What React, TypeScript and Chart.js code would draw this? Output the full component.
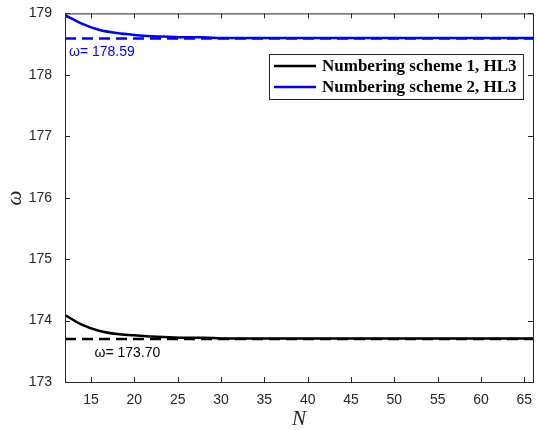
import React, { useEffect, useRef } from "react";
import { Chart, registerables } from "chart.js";

Chart.register(...registerables);

// Sample sizes N and the converged frequency for each numbering scheme
const nValues = [12, 14, 16, 18, 20, 22, 24, 26, 28, 30, 32, 34, 36, 38, 40, 42, 44, 46, 48, 50, 52, 54, 56, 58, 60, 62, 64, 66];
const scheme1 = [174.09, 173.93, 173.83, 173.78, 173.76, 173.74, 173.73, 173.72, 173.72, 173.71, 173.71, 173.71, 173.71, 173.71, 173.71, 173.71, 173.71, 173.71, 173.71, 173.71, 173.71, 173.71, 173.71, 173.71, 173.71, 173.71, 173.71, 173.71];
const scheme2 = [178.97, 178.83, 178.73, 178.68, 178.65, 178.63, 178.62, 178.61, 178.61, 178.60, 178.60, 178.60, 178.60, 178.60, 178.60, 178.60, 178.60, 178.60, 178.60, 178.60, 178.60, 178.60, 178.60, 178.60, 178.60, 178.60, 178.60, 178.60];
const reference1 = 173.7;
const reference2 = 178.59;
const seriesNames = ["Numbering scheme 1, HL3", "Numbering scheme 2, HL3"];
const seriesColors = ["#000000", "#0000ff"];
const xTicks = [15, 20, 25, 30, 35, 40, 45, 50, 55, 60, 65];
const yTicks = [173, 174, 175, 176, 177, 178, 179];

const AXIS_COLOR = "#262626";
const SANS = "'Liberation Sans', Arial, sans-serif";
const SERIF = "'Liberation Serif', 'Times New Roman', serif";

const frame = {
  id: "frame",
  afterDatasetsDraw(chart: any) {
    const { ctx, chartArea: a, scales } = chart;
    const xs = scales.x;
    const ys = scales.y;
    ctx.save();

    // reference value labels
    ctx.font = "14px " + SANS;
    ctx.textBaseline = "middle";
    ctx.textAlign = "left";
    ctx.fillStyle = seriesColors[1];
    ctx.fillText("\u03c9= " + reference2.toFixed(2), xs.getPixelForValue(12) + 4, ys.getPixelForValue(reference2) + 14);
    ctx.fillStyle = seriesColors[0];
    ctx.fillText("\u03c9= " + reference1.toFixed(2), xs.getPixelForValue(15.4), ys.getPixelForValue(reference1) + 14);

    // box and inward ticks on all four sides
    ctx.strokeStyle = AXIS_COLOR;
    ctx.lineWidth = 1;
    ctx.strokeRect(a.left + 0.5, a.top + 0.5, a.right - a.left, a.bottom - a.top);
    ctx.beginPath();
    const tl = 5;
    xTicks.forEach((v) => {
      const px = Math.round(xs.getPixelForValue(v)) + 0.5;
      ctx.moveTo(px, a.bottom);
      ctx.lineTo(px, a.bottom - tl);
      ctx.moveTo(px, a.top);
      ctx.lineTo(px, a.top + tl);
    });
    yTicks.forEach((v) => {
      const py = Math.round(ys.getPixelForValue(v)) + 0.5;
      ctx.moveTo(a.left, py);
      ctx.lineTo(a.left + tl, py);
      ctx.moveTo(a.right, py);
      ctx.lineTo(a.right - tl, py);
    });
    ctx.stroke();

    // legend
    const lx = 269, ly = 54, lw = 254, lh = 45;
    ctx.fillStyle = "#ffffff";
    ctx.fillRect(lx, ly, lw, lh);
    ctx.strokeStyle = AXIS_COLOR;
    ctx.lineWidth = 1;
    ctx.strokeRect(lx + 0.5, ly + 0.5, lw, lh);
    ctx.font = "bold 17px " + SERIF;
    ctx.textBaseline = "middle";
    seriesNames.forEach((name, i) => {
      const cy = ly + 12 + i * 21;
      ctx.strokeStyle = seriesColors[i];
      ctx.lineWidth = 2.5;
      ctx.beginPath();
      ctx.moveTo(lx + 5, cy);
      ctx.lineTo(lx + 47, cy);
      ctx.stroke();
      ctx.fillStyle = "#000000";
      ctx.fillText(name, lx + 53, cy + 1);
    });

    // axis titles
    ctx.fillStyle = AXIS_COLOR;
    ctx.font = "italic 21px " + SERIF;
    ctx.textAlign = "center";
    ctx.fillText("N", (a.left + a.right) / 2, 419);
    ctx.translate(15, 198);
    ctx.rotate(-Math.PI / 2);
    ctx.fillText("\u03c9", 0, 0);
    ctx.restore();
  },
};

export default function App() {
  const ref = useRef<HTMLCanvasElement | null>(null);

  useEffect(() => {
    document.body.style.margin = "0";
    const pts = (ys: number[]) => nValues.map((n, i) => ({ x: n, y: ys[i] }));
    const flat = (v: number) => [{ x: 12, y: v }, { x: 66, y: v }];
    const chart = new Chart(ref.current!, {
      type: "line",
      data: {
        datasets: [
          { data: flat(reference1), borderColor: "#000000", borderWidth: 2.5, borderDash: [11, 6], pointRadius: 0 },
          { data: flat(reference2), borderColor: "#0000ff", borderWidth: 2.5, borderDash: [11, 6], pointRadius: 0 },
          { label: seriesNames[0], data: pts(scheme1), borderColor: seriesColors[0], borderWidth: 2.5, pointRadius: 0, cubicInterpolationMode: "monotone" },
          { label: seriesNames[1], data: pts(scheme2), borderColor: seriesColors[1], borderWidth: 2.5, pointRadius: 0, cubicInterpolationMode: "monotone" },
        ],
      },
      options: {
        responsive: false,
        animation: false,
        layout: { padding: { top: 13, right: 4, left: 0, bottom: 0 } },
        plugins: { legend: { display: false }, tooltip: { enabled: false } },
        scales: {
          x: {
            type: "linear",
            min: 12,
            max: 66,
            grid: { display: false },
            border: { display: false },
            afterBuildTicks: (s: any) => { s.ticks = xTicks.map((v) => ({ value: v })); },
            afterFit: (s: any) => { s.height = 48; },
            ticks: { color: AXIS_COLOR, font: { family: SANS, size: 14 }, padding: 2, maxRotation: 0, autoSkip: false },
          },
          y: {
            type: "linear",
            min: 173,
            max: 179,
            grid: { display: false },
            border: { display: false },
            afterBuildTicks: (s: any) => { s.ticks = yTicks.map((v) => ({ value: v })); },
            afterFit: (s: any) => { s.width = 65; },
            ticks: { color: AXIS_COLOR, font: { family: SANS, size: 14 }, padding: 5 },
          },
        },
      },
      plugins: [frame],
    } as any);
    return () => chart.destroy();
  }, []);

  return (
    <div style={{ width: 537, height: 430 }}>
      <canvas ref={ref} width={537} height={430} style={{ display: "block" }} />
    </div>
  );
}
